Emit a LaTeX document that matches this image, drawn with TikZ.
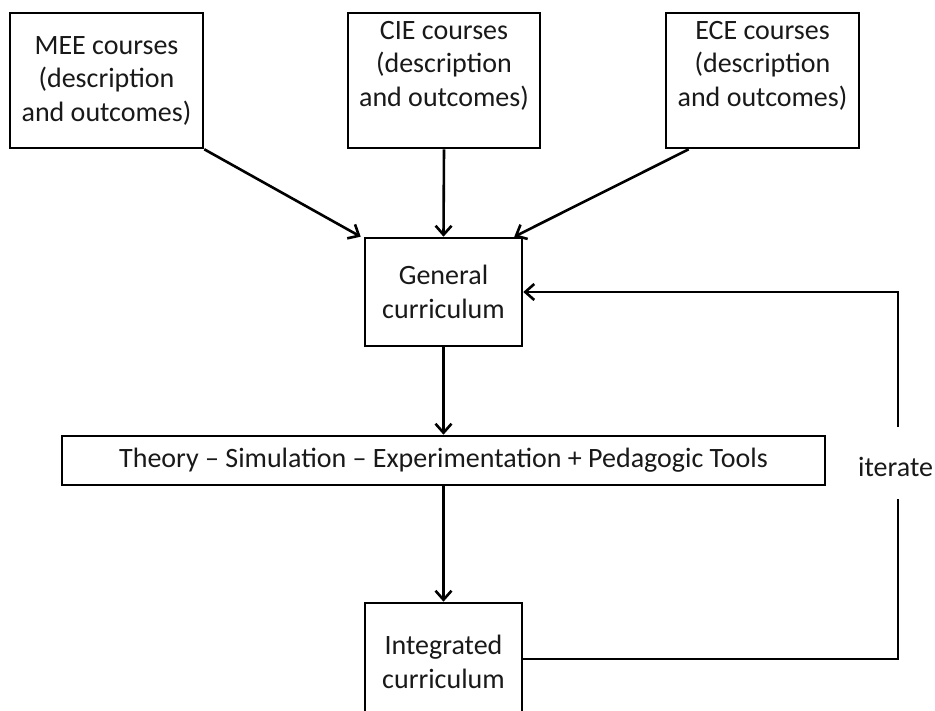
\documentclass[tikz,border=0pt]{standalone}
\usepackage{fontspec}
\setmainfont{Carlito}
\usetikzlibrary{arrows.meta}
\begin{document}
\begin{tikzpicture}[x=1pt,y=-1pt,
  every node/.style={font=\fontsize{28}{33.5}\selectfont, text=black!90},
  box/.style={draw=black, line width=2.6pt, align=center, inner sep=0pt, fill=white},
  conn/.style={draw=black, line width=2.6pt, line join=miter},
  arr/.style={conn, -{Straight Barb[length=9pt,width=16pt,line width=2.6pt]}}]
\useasboundingbox (0,0) rectangle (935,711);
\clip (0,0) rectangle (935,711);
\node[box, minimum width=193pt, minimum height=135pt] (mee) at (106.5,80.5) {MEE courses\\(description\\and outcomes)};
\node[box, minimum width=192pt, minimum height=135pt] (cie) at (444,80.5) {CIE courses\\(description\\and outcomes)\\\mbox{}};
\node[box, minimum width=193pt, minimum height=135pt] (ece) at (762.5,80.5) {ECE courses\\(description\\and outcomes)\\\mbox{}};
\node[box, minimum width=157pt, minimum height=108pt] (gen) at (443.5,292) {General\\curriculum};
\node[box, minimum width=763pt, minimum height=49pt] (theory) at (443.5,460.5) {Theory – Simulation – Experimentation + Pedagogic Tools};
\node[box, minimum width=157pt, minimum height=118pt] (integ) at (443.5,662) {Integrated\\curriculum};
\node[anchor=west, inner sep=0pt] (iter) at (858,467) {iterate};
\coordinate (c1) at (898,659);
\coordinate (c2) at (898,499);
\coordinate (c3) at (898,427);
\coordinate (c4) at (898,292);
\draw[arr] (mee.south east) -- ([xshift=-3pt]gen.north west);
\draw[arr] (cie.south) -- (gen.north);
\draw[arr] ([xshift=24pt]ece.south west) -- ([xshift=-9pt]gen.north east);
\draw[arr] (gen.south) -- (theory.north);
\draw[arr] (theory.south) -- (integ.north);
\draw[conn] ([yshift=3pt]integ.east) -- (c1) -- (c2);
\draw[arr] (c3) -- (c4) -- (gen.east);
\end{tikzpicture}
\end{document}
